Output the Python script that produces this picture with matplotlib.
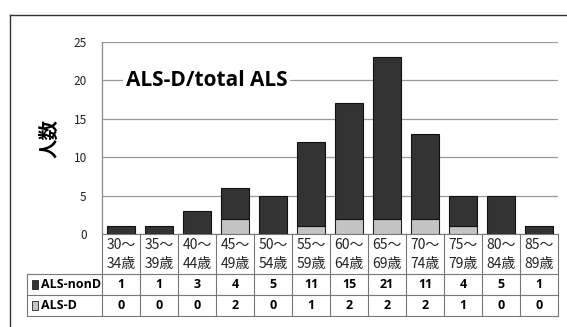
import matplotlib
matplotlib.use("Agg")
import matplotlib.pyplot as plt
from matplotlib.lines import Line2D
from matplotlib.patches import Rectangle
import matplotlib.transforms as mtransforms

plt.rcParams['font.family'] = ['Noto Sans CJK JP', 'DejaVu Sans']

age_top = ["30～", "35～", "40～", "45～", "50～", "55～", "60～", "65～", "70～", "75～", "80～", "85～"]
age_bottom = ["34歳", "39歳", "44歳", "49歳", "54歳", "59歳", "64歳", "69歳", "74歳", "79歳", "84歳", "89歳"]
als_nond = [1, 1, 3, 4, 5, 11, 15, 21, 11, 4, 5, 1]
als_d = [0, 0, 0, 2, 0, 1, 2, 2, 2, 1, 0, 0]
y_ticks = [0, 5, 10, 15, 20, 25]

dark = "#333333"
light = "#c4c4c4"
grid_c = "#9a9a9a"

W, H = 567, 327
fig = plt.figure(figsize=(W / 100, H / 100), dpi=100)

# frame around the whole chart
fig.add_artist(Line2D([10 / W, 10 / W], [0, 1 - 15 / H], transform=fig.transFigure, color="#333333", lw=1.0))
fig.add_artist(Line2D([10 / W, 1], [1 - 15 / H, 1 - 15 / H], transform=fig.transFigure, color="#333333", lw=1.0))

ax = fig.add_axes([102 / W, 1 - 234 / H, (558 - 102) / W, (234 - 42) / H])
x = list(range(len(als_nond)))
ax.bar(x, als_d, width=0.73, color=light, edgecolor="#222222", linewidth=0.8, zorder=3)
ax.bar(x, als_nond, bottom=als_d, width=0.73, color=dark, edgecolor="#111111", linewidth=0.8, zorder=3)

ax.set_xlim(-0.5, len(x) - 0.5)
ax.set_ylim(0, 25)
ax.set_yticks(y_ticks)
ax.set_yticklabels([str(v) for v in y_ticks], fontsize=8.5, color="#222222")
ax.tick_params(axis='y', length=0, pad=11)
ax.set_xticks([])
ax.yaxis.grid(True, color=grid_c, lw=0.9, zorder=0)
for s in ["top", "right", "bottom"]:
    ax.spines[s].set_visible(False)
ax.spines["left"].set_color("#888888")
ax.spines["left"].set_linewidth(0.9)

ax.set_ylabel("人数", fontsize=14, fontweight="bold", labelpad=10)

ax.text(0.12, 20, "ALS-D/total ALS", fontsize=15, fontweight="bold",
        family=["Open Sans", "DejaVu Sans"], va="center", ha="left", zorder=4,
        bbox=dict(facecolor="white", edgecolor="none", pad=2))

# data table below the axis
trans = mtransforms.blended_transform_factory(ax.transData, ax.transAxes)
ph = 234 - 42
y_lab_bot = -(274 - 234) / ph
y_row1_bot = -(295 - 234) / ph
y_row2_bot = -(316 - 234) / ph
x_head = -0.5 - 75 / 38
n = len(x)
lc = "#777777"
lw = 0.8

def hline(x0, x1, y):
    ax.add_line(Line2D([x0, x1], [y, y], transform=trans, color=lc, lw=lw, clip_on=False))

def vline(xx, y0, y1):
    ax.add_line(Line2D([xx, xx], [y0, y1], transform=trans, color=lc, lw=lw, clip_on=False))

hline(-0.5, n - 0.5, 0)
hline(x_head, n - 0.5, y_lab_bot)
hline(x_head, n - 0.5, y_row1_bot)
hline(x_head, n - 0.5, y_row2_bot)
for i in range(n + 1):
    vline(i - 0.5, y_row2_bot, 0)
vline(x_head, y_row2_bot, y_lab_bot)

for i in range(n):
    ax.text(i, y_lab_bot * 0.27, age_top[i], transform=trans, ha="center", va="center",
            fontsize=10, color="#222222", family=["Noto Sans CJK JP"])
    ax.text(i, y_lab_bot * 0.76, age_bottom[i], transform=trans, ha="center", va="center",
            fontsize=10, color="#222222", family=["Noto Sans CJK JP"])
    ax.text(i, (y_lab_bot + y_row1_bot) / 2, str(als_nond[i]), transform=trans, ha="center",
            va="center", fontsize=9, fontweight="bold", family=["Open Sans", "DejaVu Sans"])
    ax.text(i, (y_row1_bot + y_row2_bot) / 2, str(als_d[i]), transform=trans, ha="center",
            va="center", fontsize=9, fontweight="bold", family=["Open Sans", "DejaVu Sans"])

# row headers with legend keys
key_w = 0.17
for y0, y1, col, name in [(y_row1_bot, y_lab_bot, dark, "ALS-nonD"), (y_row2_bot, y_row1_bot, light, "ALS-D")]:
    yc = (y0 + y1) / 2
    ax.add_patch(Rectangle((x_head + 0.13, yc - 0.022), key_w, 0.044, transform=trans,
                           facecolor=col, edgecolor="#222222", lw=0.6, clip_on=False))
    ax.text(x_head + 0.36, yc, name, transform=trans, ha="left", va="center",
            fontsize=9, fontweight="bold", family=["Open Sans", "DejaVu Sans"])

fig.savefig("out.png", dpi=100)
